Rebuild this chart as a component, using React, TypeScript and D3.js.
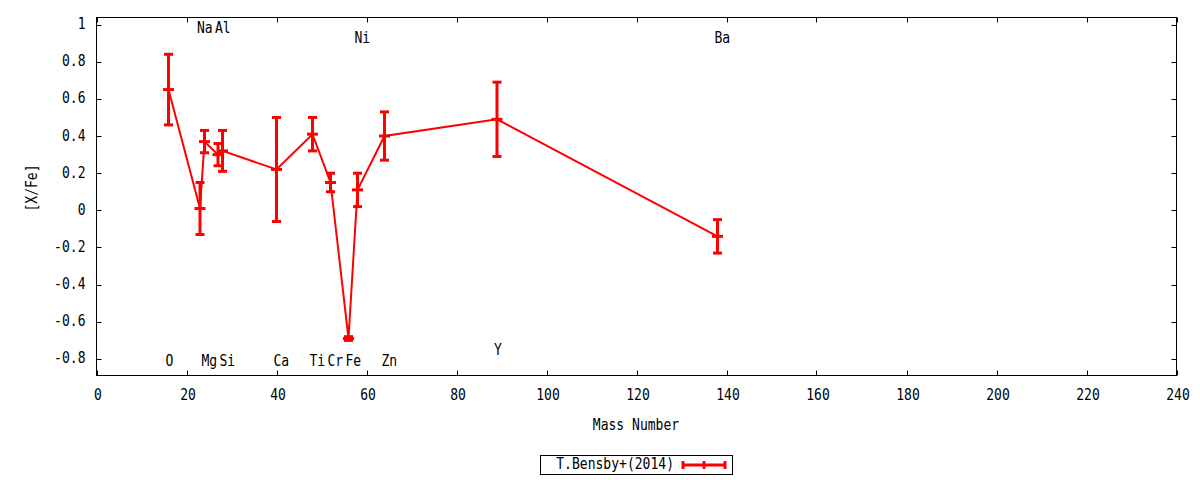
import React from "react";
import * as d3 from "d3";

const elements = ["O", "Na", "Mg", "Al", "Si", "Ca", "Ti", "Cr", "Fe", "Ni", "Zn", "Y", "Ba"];
const massNumbers = [16, 23, 24, 27, 28, 40, 48, 52, 56, 58, 64, 89, 138];
const xFeValues = [0.65, 0.01, 0.37, 0.30, 0.32, 0.22, 0.41, 0.15, -0.69, 0.11, 0.40, 0.49, -0.14];
const xFeErrors = [0.19, 0.14, 0.06, 0.06, 0.11, 0.28, 0.09, 0.05, 0.01, 0.09, 0.13, 0.20, 0.09];
const labelLevels = [-0.81, 0.985, -0.81, 0.985, -0.81, -0.81, -0.81, -0.81, -0.81, 0.93, -0.81, -0.75, 0.93];
const xTicks = [0, 20, 40, 60, 80, 100, 120, 140, 160, 180, 200, 220, 240];
const yTicks = [-0.8, -0.6, -0.4, -0.2, 0, 0.2, 0.4, 0.6, 0.8, 1];
const seriesName = "T.Bensby+(2014)";
const xTitle = "Mass Number";
const yTitle = "[X/Fe]";

const W = 1200;
const H = 480;
const RED = "#ff0000";
const FONT = "DejaVu Sans Mono";

const T = ({ x, y, anchor = "start", rotate = false, children }: any) => (
  <text
    transform={`translate(${x},${y})${rotate ? " rotate(-90)" : ""} scale(0.87,1)`}
    textAnchor={anchor}
    fontFamily={FONT}
    fontSize={15}
    fill="#000"
  >
    {children}
  </text>
);

export default function App() {
  const x = d3.scaleLinear().domain([0, 240]).range([96.5, 1176.5]);
  const y = d3.scaleLinear().domain([-0.889, 1.038]).range([375.5, 17.5]);
  const [x0, x1] = x.range();
  const [yb, yt] = y.range();
  const pts = massNumbers.map((m, i) => ({ m, v: xFeValues[i], e: xFeErrors[i] }));
  const line = d3
    .line<any>()
    .x((d) => x(d.m))
    .y((d) => y(d.v));
  const tickLen = 5;
  const fmt = (v: number) => String(+v.toFixed(1));

  return (
    <svg
      width={W}
      height={H}
      style={{ position: "absolute", left: 0, top: 0, background: "#fff" }}
    >
      <rect x={0} y={0} width={W} height={H} fill="#fff" />
      {/* ticks */}
      {xTicks.map((t) => (
        <g key={"xt" + t}>
          <line x1={Math.round(x(t)) + 0.5} x2={Math.round(x(t)) + 0.5} y1={yb} y2={yb - tickLen} stroke="#000" />
          <line x1={Math.round(x(t)) + 0.5} x2={Math.round(x(t)) + 0.5} y1={yt} y2={yt + tickLen} stroke="#000" />
          <T x={x(t) + 1.5} y={yb + 24.5} anchor="middle">{String(t)}</T>
        </g>
      ))}
      {yTicks.map((t) => (
        <g key={"yt" + t}>
          <line x1={x0} x2={x0 + tickLen} y1={Math.round(y(t)) + 0.5} y2={Math.round(y(t)) + 0.5} stroke="#000" />
          <line x1={x1} x2={x1 - tickLen} y1={Math.round(y(t)) + 0.5} y2={Math.round(y(t)) + 0.5} stroke="#000" />
          <T x={85.5} y={y(t) + 4.5} anchor="end">{fmt(t)}</T>
        </g>
      ))}
      <rect x={x0} y={yt} width={x1 - x0} height={yb - yt} fill="none" stroke="#000" strokeWidth={1} />

      {/* element labels */}
      {elements.map((el, i) => (
        <T key={"lab" + el} x={x(massNumbers[i]) - 3} y={y(labelLevels[i]) + 5.5}>{el}</T>
      ))}

      {/* connecting line */}
      <path d={line(pts) || ""} fill="none" stroke={RED} strokeWidth={2} />

      {/* error bars */}
      {pts.map((p, i) => {
        const cx = x(p.m);
        const top = y(p.v + p.e);
        const bot = y(p.v - p.e);
        const cy = y(p.v);
        return (
          <g key={"eb" + i} stroke={RED} strokeWidth={3}>
            <line x1={cx} x2={cx} y1={top} y2={bot} />
            <line x1={cx - 4.5} x2={cx + 4.5} y1={top} y2={top} />
            <line x1={cx - 4.5} x2={cx + 4.5} y1={bot} y2={bot} />
            <line x1={cx - 5.5} x2={cx + 5.5} y1={cy} y2={cy} />
          </g>
        );
      })}

      {/* axis titles */}
      <T x={636} y={430} anchor="middle">{xTitle}</T>
      <T x={37} y={188} anchor="middle" rotate>{yTitle}</T>

      {/* legend */}
      <rect x={540.5} y={455.5} width={192} height={19} fill="none" stroke="#000" />
      <T x={674} y={469} anchor="end">{seriesName}</T>
      <g stroke={RED} strokeWidth={3}>
        <line x1={683} x2={725} y1={465} y2={465} />
        <line x1={683} x2={683} y1={461} y2={469} />
        <line x1={704} x2={704} y1={461} y2={469} />
        <line x1={725} x2={725} y1={461} y2={469} />
      </g>
    </svg>
  );
}
